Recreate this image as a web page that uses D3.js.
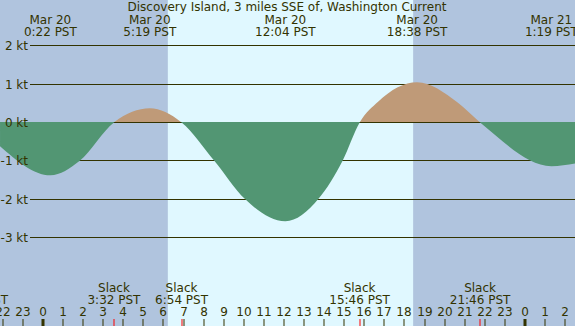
<!DOCTYPE html>
<html>
<head>
<meta charset="utf-8" />
<title>Discovery Island Current</title>
<script src="https://d3js.org/d3.v7.min.js"></script>
<style>
  body { margin: 0; background: #fff; }
  svg { display: block; font-family: "DejaVu Sans", sans-serif; }
  text { fill: #333300; }
</style>
</head>
<body>
<svg width="575" height="326"></svg>
<script>
// hours counted from Mar 20 0:00 PST
var title = "Discovery Island, 3 miles SSE of, Washington Current";

var peakDays = ["Mar 20", "Mar 20", "Mar 20", "Mar 20", "Mar 21"];
var peakTimes = ["0:22", "5:19", "12:04", "18:38", "1:19"];
var peakDayOffset = [0, 0, 0, 0, 24];

var slackTimes = ["20:45", "3:32", "6:54", "15:46", "21:46"];
var slackDayOffset = [-24, 0, 0, 0, 0];

var sunrise = "6:13";
var sunset = "18:26";

// current speed (hour, knots)
var curveHours = [-2.14, 0.37, 1.83, 3.53, 5.32, 6.9, 8.53, 10.06, 12.07, 13.71, 14.92, 15.77, 16.7, 18.63, 20.65, 21.77, 25.32, 26.5];
var curveKnots = [-0.62, -1.38, -1.0, 0, 0.37, 0, -1.0, -2.0, -2.58, -2.0, -1.0, 0, 0.55, 1.05, 0.52, 0, -1.14, -1.07];

var knotTicks = [2, 1, 0, -1, -2, -3];
var hourTicks = d3.range(-2, 27);

function toHours(s, off) {
  var p = s.split(":");
  return +p[0] + (+p[1]) / 60 + off;
}

var svg = d3.select("svg"),
    width = +svg.attr("width"),
    height = +svg.attr("height");

var x = d3.scaleLinear().domain([-43 / 20.08, (575 - 43) / 20.08]).range([0, width]);
var y = d3.scaleLinear().domain([0, 1]).range([122.5, 84.2]);
var zeroY = y(0) - 0.5;

// night / day background
svg.append("rect").attr("x", 0).attr("y", 0).attr("width", width).attr("height", height).attr("fill", "#b0c4de");
var rise = x(toHours(sunrise, 0)), set = x(toHours(sunset, 0));
svg.append("rect").attr("x", rise).attr("y", 0).attr("width", set - rise).attr("height", height).attr("fill", "#e0f8ff");

// grid lines (drawn under the fill)
var grid = svg.append("g");
knotTicks.forEach(function (k) {
  grid.append("line").attr("x1", 30).attr("x2", width).attr("y1", y(k)).attr("y2", y(k))
    .attr("stroke", "#333300").attr("stroke-width", 1).attr("shape-rendering", "crispEdges");
});

// current fill: flood above zero, ebb below
var pts = curveHours.map(function (h, i) { return [h, curveKnots[i]]; });
var area = d3.area().curve(d3.curveMonotoneX)
  .x(function (d) { return x(d[0]); })
  .y0(zeroY)
  .y1(function (d) { return y(d[1]); });

var defs = svg.append("defs");
defs.append("clipPath").attr("id", "pos").append("rect")
  .attr("x", 0).attr("y", 0).attr("width", width).attr("height", zeroY);
defs.append("clipPath").attr("id", "neg").append("rect")
  .attr("x", 0).attr("y", zeroY).attr("width", width).attr("height", height);

svg.append("path").datum(pts).attr("d", area).attr("fill", "#bf9a78").attr("clip-path", "url(#pos)");
svg.append("path").datum(pts).attr("d", area).attr("fill", "#529673").attr("clip-path", "url(#neg)");

// knot labels over the fill
knotTicks.forEach(function (k) {
  svg.append("text").attr("x", 28).attr("y", y(k) + 4.5).attr("text-anchor", "end")
    .style("font-size", "12px").text(k + " kt");
});

// title and peak labels
svg.append("text").attr("x", 287).attr("y", 11).attr("text-anchor", "middle")
  .style("font-size", "12px").text(title);

peakTimes.forEach(function (t, i) {
  var px = x(toHours(t, peakDayOffset[i]));
  svg.append("text").attr("x", px).attr("y", 24).attr("text-anchor", "middle")
    .style("font-size", "12px").text(peakDays[i]);
  svg.append("text").attr("x", px).attr("y", 36).attr("text-anchor", "middle")
    .style("font-size", "12px").text(t + " PST");
});

// hour axis
var axis = svg.append("g");
hourTicks.forEach(function (h) {
  var hx = Math.round(x(h));
  var mid = ((h % 24) + 24) % 24 === 0;
  axis.append("rect").attr("x", mid ? hx - 1.5 : hx - 0.5).attr("y", 319)
    .attr("width", mid ? 3 : 1).attr("height", 7).attr("fill", "#333300");
  axis.append("text").attr("x", hx).attr("y", 316).attr("text-anchor", "middle")
    .style("font-size", "12px").text(((h % 24) + 24) % 24);
});

// slack marks
slackTimes.forEach(function (t, i) {
  var sx = x(toHours(t, slackDayOffset[i]));
  axis.append("rect").attr("x", Math.round(sx) - 0.5).attr("y", 319).attr("width", 1).attr("height", 7).attr("fill", "#ff0000");
  axis.append("text").attr("x", sx).attr("y", 292).attr("text-anchor", "middle")
    .style("font-size", "12px").text("Slack");
  axis.append("text").attr("x", sx).attr("y", 304).attr("text-anchor", "middle")
    .style("font-size", "12px").text(t + " PST");
});
</script>
</body>
</html>
